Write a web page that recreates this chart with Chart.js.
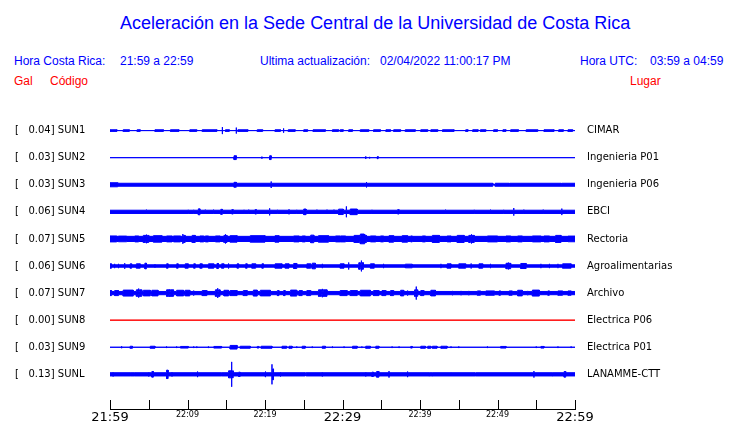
<!DOCTYPE html>
<html>
<head>
<meta charset="utf-8">
<script src="https://cdn.jsdelivr.net/npm/chart.js@4"></script>
<style>
    body { margin: 0; width: 740px; height: 423px; background: #fff; position: relative; overflow: hidden; }
    .t { position: absolute; white-space: pre; font-family: "Liberation Sans", Arial, sans-serif; font-size: 12px; line-height: 14px; color: #0000ff; }
    .red { color: #ff0000; }
    #title { font-size: 18px; line-height: 20px; }
    canvas { position: absolute; left: 0; top: 0; }
</style>
</head>
<body>
<div class="t" id="title" style="left:120px; top:13px;">Aceleración en la Sede Central de la Universidad de Costa Rica</div>
<div class="t" style="left:14px; top:54px;">Hora Costa Rica:</div>
<div class="t" style="left:120px; top:54px;">21:59 a 22:59</div>
<div class="t" style="left:260px; top:54px;">Ultima actualización:</div>
<div class="t" style="left:380px; top:54px;">02/04/2022 11:00:17 PM</div>
<div class="t" style="left:580px; top:54px;">Hora UTC:</div>
<div class="t" style="left:650px; top:54px;">03:59 a 04:59</div>
<div class="t red" style="left:14px; top:74px;">Gal</div>
<div class="t red" style="left:50px; top:74px;">Código</div>
<div class="t red" style="left:630px; top:74px;">Lugar</div>
<canvas id="sismo" width="740" height="427"></canvas>
<script>
// Estaciones (de arriba hacia abajo)
const stations = ["SUN1", "SUN2", "SUN3", "SUN4", "SUN5", "SUN6", "SUN7", "SUN8", "SUN9", "SUNL"];
const peaks = ["0.04", "0.03", "0.03", "0.06", "0.07", "0.06", "0.07", "0.00", "0.03", "0.13"];
const places = ["CIMAR", "Ingenieria P01", "Ingenieria P06", "EBCI", "Rectoria", "Agroalimentarias", "Archivo", "Electrica P06", "Electrica P01", "LANAMME-CTT"];

// Eje de tiempo: minutos desde 21:59, una marca cada 5 minutos
const timeLabels = ["21:59", "", "22:09", "", "22:19", "", "22:29", "", "22:39", "", "22:49", "", "22:59"];
const majorTimes = ["21:59", "22:29", "22:59"];

// Amplitud base de cada traza (fraccion de la separacion entre trazas)
const baseAmp = [0, 0, 0.055, 0.06, 0.095, 0.045, 0.06, 0, 0, 0.06];

// Rafagas: [minuto inicio, minuto fin, amplitud]
const sun1Bursts = [[0, 0.9, .03], [1.7, 2.5, .03], [3.5, 3.9, .03], [5.8, 6.9, .03], [7.8, 8.9, .03], [10.3, 11.2, .03], [11.9, 13.8, .03], [14.5, 14.5, .13], [14.9, 15.4, .03], [16.3, 16.3, .11], [16.5, 17.8, .03], [19.0, 19.7, .03], [21.3, 22.0, .03], [22.4, 22.4, .08], [23.0, 23.9, .03], [25.0, 25.5, .03], [26.2, 27.8, .03], [28.7, 29.5, .03], [29.7, 30.1, .03], [30.8, 31.3, .03], [32.3, 33.4, .03], [34.0, 34.9, .03], [35.6, 36.2, .03], [36.6, 37.5, .03], [38.1, 39.4, .03], [40.1, 41.0, .03], [41.4, 42.3, .03], [42.9, 44.4, .03], [45.9, 46.2, .03], [46.8, 47.5, .03], [47.8, 48.5, .03], [49.5, 50.0, .03], [50.7, 51.1, .03], [51.7, 52.7, .03], [53.7, 55.2, .03], [56.0, 57.3, .03], [57.9, 58.5, .03], [59.1, 59.7, .03]];
const sun2Bursts = [[16.0, 16.3, .07], [19.6, 19.6, .04], [20.6, 20.8, .07], [33.0, 33.0, .05], [33.5, 33.5, .03], [34.5, 34.6, .04]];
const sun3Bursts = [[0, 1.0, .075], [16.0, 16.3, .09], [20.8, 20.8, .12], [33.1, 33.1, .1], [49.4, 49.7, .01], [51.5, 51.6, .01], [58.2, 58.3, .01]];
const sun4Bursts = [[4.7, 4.7, .08], [10.1, 10.1, .074], [10.8, 10.8, .074], [11.4, 11.6, .11], [12.3, 12.3, .08], [13.3, 13.4, .08], [14.3, 14.5, .093], [15.7, 15.9, .08], [17.3, 17.3, .074], [17.9, 17.9, .08], [18.7, 18.9, .08], [20.6, 20.6, .13], [21.6, 21.6, .074], [23.1, 23.1, .093], [24.1, 24.1, .074], [25.0, 25.3, .104], [26.7, 26.7, .08], [28.0, 28.0, .08], [28.9, 28.9, .08], [29.5, 30.1, .1], [30.5, 30.5, .2], [31.0, 31.9, .104], [33.8, 33.8, .074], [37.1, 37.3, .08], [43.3, 43.3, .08], [47.0, 47.0, .074], [49.1, 49.1, .08], [50.8, 50.8, .074], [52.1, 52.1, .14], [53.4, 53.4, .08], [55.9, 55.9, .08], [58.3, 58.3, .12]];
const sun5Bursts = [[0, 0.87, .11], [1.08, 2.16, .105], [3.2, 3.7, .11], [4.3, 4.6, .13], [4.7, 4.7, .16], [4.8, 5.0, .13], [5.6, 6.7, .12], [7.3, 8.0, .11], [8.2, 9.1, .11], [9.4, 9.4, .18], [9.5, 9.7, .13], [10.6, 11.0, .13], [11.6, 12.1, .11], [12.3, 12.7, .11], [13.6, 14.2, .11], [14.7, 14.8, .13], [14.9, 14.9, .17], [15.0, 15.1, .13], [15.5, 16.4, .12], [18.1, 20.0, .12], [21.3, 21.8, .12], [23.7, 24.4, .11], [24.8, 25.2, .11], [25.9, 26.3, .14], [26.9, 28.2, .12], [29.1, 29.7, .11], [29.8, 30.4, .11], [31.5, 32.2, .13], [32.3, 32.8, .18], [32.9, 33.1, .13], [33.6, 34.3, .11], [34.9, 35.3, .11], [36.0, 36.6, .12], [37.7, 38.4, .12], [38.8, 39.0, .11], [40.3, 40.7, .11], [41.6, 42.5, .13], [43.5, 44.0, .11], [44.8, 45.7, .13], [46.3, 46.5, .13], [46.6, 46.6, .17], [46.7, 47.0, .13], [48.7, 50.0, .11], [51.1, 51.7, .11], [52.6, 53.2, .11], [54.5, 55.6, .11], [56.0, 56.7, .11], [57.5, 58.2, .13], [59.1, 60, .105]];
const sun6Bursts = [[0, 0.2, .08], [0.6, 0.6, .08], [1.1, 1.1, .08], [1.9, 1.9, .104], [2.6, 2.8, .08], [3.4, 3.9, .08], [4.5, 4.7, .104], [5.8, 5.8, .067], [7.3, 7.5, .08], [8.6, 8.8, .08], [9.7, 10.1, .08], [10.8, 11.0, .08], [11.6, 11.9, .08], [12.7, 13.4, .08], [13.8, 14.0, .093], [14.4, 14.7, .08], [15.3, 15.3, .093], [16.4, 16.6, .08], [17.5, 17.7, .08], [18.3, 18.8, .08], [19.6, 19.8, .08], [21.3, 22.2, .08], [22.6, 23.1, .08], [23.7, 24.1, .093], [25.4, 25.9, .08], [26.1, 26.5, .104], [27.4, 27.4, .08], [29.7, 30.2, .08], [30.8, 30.8, .13], [32.1, 32.3, .12], [32.4, 32.4, .2], [32.5, 32.7, .12], [33.6, 34.1, .08], [35.3, 35.3, .08], [38.1, 39.0, .067], [42.7, 42.7, .08], [43.5, 44.0, .08], [45.0, 45.9, .08], [46.6, 46.6, .093], [47.6, 48.1, .08], [49.1, 49.1, .08], [51.1, 51.3, .1], [51.4, 51.4, .13], [51.5, 51.7, .1], [53.0, 53.7, .093], [55.6, 55.6, .08], [56.7, 56.7, .08], [57.8, 57.8, .08], [58.4, 59.5, .08]];
const sun7Bursts = [[0, 0.2, .093], [0.6, 1.1, .093], [1.7, 3.0, .11], [3.4, 3.6, .12], [3.7, 3.7, .167], [3.8, 4.1, .12], [4.3, 5.2, .104], [5.4, 6.2, .104], [7.3, 7.6, .12], [7.7, 7.7, .14], [7.8, 8.2, .12], [8.6, 9.5, .104], [9.7, 10.3, .104], [10.8, 10.8, .093], [11.9, 12.5, .093], [13.6, 13.8, .12], [13.9, 13.9, .18], [14.0, 14.2, .12], [14.7, 15.3, .104], [15.5, 16.4, .093], [17.2, 17.7, .093], [18.5, 19.0, .11], [19.4, 20.7, .104], [21.6, 21.8, .093], [22.4, 22.6, .093], [23.3, 24.1, .11], [24.4, 24.8, .093], [25.4, 25.9, .093], [26.9, 27.3, .12], [27.4, 27.4, .155], [27.5, 28.0, .12], [29.7, 30.6, .093], [31.0, 31.9, .093], [32.3, 33.6, .104], [34.0, 34.7, .093], [35.1, 35.6, .093], [36.2, 36.6, .093], [37.5, 37.9, .104], [38.4, 38.4, .093], [39.3, 39.45, .12], [39.5, 39.5, .24], [39.55, 39.7, .12], [40.1, 40.5, .093], [41.4, 42.0, .104], [44.2, 44.2, .08], [45.3, 45.3, .08], [46.3, 46.3, .08], [47.4, 47.8, .08], [48.5, 49.6, .08], [50.2, 50.4, .08], [51.5, 51.9, .08], [52.6, 53.2, .104], [53.9, 53.9, .08], [54.5, 55.4, .11], [56.5, 56.7, .08], [57.8, 58.4, .08], [59.1, 59.5, .08]];
const sun8Bursts = [];
const sun9Bursts = [[1.5, 1.5, .037], [2.6, 2.9, .037], [5.2, 5.8, .037], [7.3, 7.3, .03], [8.6, 8.6, .03], [9.1, 10.1, .03], [10.8, 10.8, .03], [11.2, 11.2, .03], [12.7, 12.7, .03], [13.4, 14.4, .03], [15.5, 16.4, .067], [16.8, 18.1, .037], [19.0, 19.2, .03], [19.5, 20.9, .037], [22.2, 22.8, .037], [23.1, 23.5, .037], [24.1, 24.1, .03], [24.8, 25.2, .037], [26.1, 26.1, .03], [27.4, 27.8, .037], [28.7, 28.7, .03], [30.2, 30.2, .03], [31.3, 31.9, .037], [32.5, 32.5, .03], [33.0, 33.6, .037], [34.3, 34.7, .037], [36.4, 36.4, .03], [37.3, 37.3, .03], [38.8, 39.0, .03], [40.1, 40.7, .037], [41.0, 41.4, .037], [41.6, 42.2, .037], [42.7, 43.5, .037], [44.0, 44.0, .03], [45.0, 45.0, .03], [48.7, 48.7, .03], [50.4, 51.1, .03], [55.0, 55.0, .03], [55.6, 56.0, .03], [57.8, 57.8, .03], [59.5, 59.5, .03]];
const sunlBursts = [[0.4, 0.4, .08], [2.6, 2.6, .055], [3.2, 3.2, .055], [5.0, 5.0, .08], [5.4, 5.6, .104], [7.3, 7.5, .155], [8.0, 8.0, .08], [11.3, 11.3, .104], [14.4, 14.4, .055], [15.3, 15.6, .13], [15.7, 15.7, .46], [15.8, 15.9, .13], [16.6, 16.8, .08], [20.0, 20.1, .104], [20.9, 20.9, .37], [21.0, 21.1, .2], [22.0, 22.0, .08], [25.2, 25.3, .01], [27.4, 27.4, .08], [33.0, 33.0, .08], [33.8, 34.0, .08], [34.4, 34.7, .104], [36.0, 36.0, .12], [38.4, 38.4, .104], [41.2, 41.2, .067], [41.6, 41.6, .067], [44.0, 44.0, .055], [47.1, 47.2, .01], [54.7, 54.7, .12], [57.1, 57.1, .067], [58.6, 58.8, .104]];

const bursts = [sun1Bursts, sun2Bursts, sun3Bursts, sun4Bursts, sun5Bursts, sun6Bursts, sun7Bursts, sun8Bursts, sun9Bursts, sunlBursts];
const traceColors = ["#0000ff", "#0000ff", "#0000ff", "#0000ff", "#0000ff", "#0000ff", "#0000ff", "#ff0000", "#0000ff", "#0000ff"];

// envolvente escalonada de una traza (sign = 1 arriba, -1 abajo)
const envelope = (i, sign) => {
    const c = -i;
    const b = baseAmp[i];
    const pts = [{ x: 0, y: c + sign * b }];
    bursts[i].forEach(([s, e, a]) => {
        pts.push(
            { x: s, y: c + sign * b },
            { x: s, y: c + sign * a },
            { x: e, y: c + sign * a },
            { x: e, y: c + sign * b }
        );
    });
    pts.push({ x: 60, y: c + sign * b });
    return pts;
};

const datasets = [];
stations.forEach((s, i) => {
    const common = {
        borderColor: traceColors[i],
        backgroundColor: traceColors[i],
        borderWidth: 1,
        pointRadius: 0,
        tension: 0,
    };
    datasets.push({ ...common, label: s, data: envelope(i, 1), fill: false });
    datasets.push({ ...common, label: s, data: envelope(i, -1), fill: "-1" });
});

// marcas del eje x hacia arriba
const tickMarks = {
    id: "tickMarks",
    afterDraw(chart) {
        const scale = chart.scales.x;
        const { ctx } = chart;
        ctx.save();
        ctx.strokeStyle = "#000";
        ctx.lineWidth = 1;
        ctx.beginPath();
        scale.ticks.forEach((t) => {
            const px = Math.round(scale.getPixelForValue(t.value)) + 0.5;
            ctx.moveTo(px, scale.top - 9);
            ctx.lineTo(px, scale.top);
        });
        ctx.stroke();
        ctx.restore();
    },
};

Chart.defaults.font.family = "'DejaVu Sans'";
Chart.defaults.color = "#000";

const stationTicks = (scale) => {
    scale.ticks = stations.map((s, i) => ({ value: -i }));
};

new Chart(document.getElementById("sismo"), {
    type: "line",
    data: { datasets: datasets },
    options: {
        responsive: false,
        animation: false,
        events: [],
        layout: {
            padding: { top: 103.5, left: 15, right: 0, bottom: 0 },
        },
        scales: {
            x: {
                type: "linear",
                min: 0,
                max: 60,
                afterBuildTicks: (scale) => {
                    scale.ticks = timeLabels.map((l, i) => ({ value: i * 5 }));
                },
                afterFit: (scale) => {
                    scale.height = 15;
                },
                ticks: {
                    autoSkip: false,
                    maxRotation: 0,
                    padding: 1,
                    color: "#000",
                    callback: (value, index) => timeLabels[index],
                    font: (ctx) => ({
                        family: "'DejaVu Sans'",
                        size: majorTimes.includes(timeLabels[ctx.index]) ? 13 : 8,
                    }),
                },
                grid: { display: false, drawTicks: false },
                border: { display: true, color: "#000", width: 1 },
            },
            y: {
                type: "linear",
                position: "left",
                min: -10.28,
                max: 1,
                afterBuildTicks: stationTicks,
                afterFit: (scale) => {
                    scale.width = 95;
                },
                ticks: {
                    crossAlign: "far",
                    padding: 0,
                    color: "#000",
                    font: { size: 10 },
                    callback: (value, index) => `[   ${peaks[index]}] ${stations[index]}`,
                },
                grid: { display: false, drawTicks: false },
                border: { display: false },
            },
            y2: {
                type: "linear",
                position: "right",
                min: -10.28,
                max: 1,
                afterBuildTicks: stationTicks,
                afterFit: (scale) => {
                    scale.width = 165;
                },
                ticks: {
                    padding: 12,
                    color: "#000",
                    font: { size: 10 },
                    callback: (value, index) => places[index],
                },
                grid: { display: false, drawTicks: false },
                border: { display: false },
            },
        },
        plugins: {
            legend: { display: false },
            tooltip: { enabled: false },
        },
    },
    plugins: [tickMarks],
});
</script>
</body>
</html>
